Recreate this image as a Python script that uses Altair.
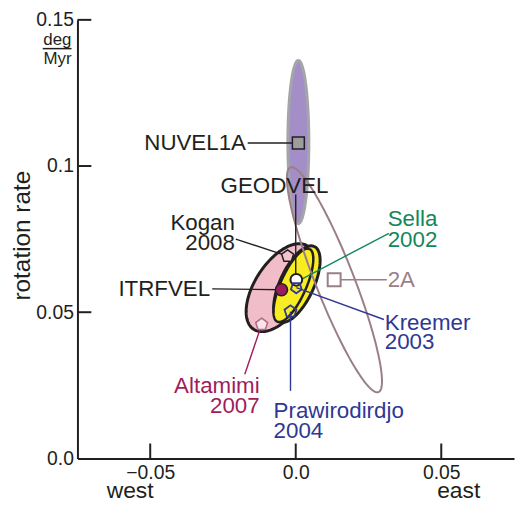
import numpy as np
import pandas as pd
import altair as alt

FONT = "Liberation Sans"
INK = "#231f20"
INKS = {"black": INK, "green": "#13875a", "mauve": "#9a7f88",
        "blue": "#2f3893", "maroon": "#a01c5c"}

# ---- axes (deg/Myr)
x_domain = [-0.075, 0.075]
y_domain = [0.0, 0.15]
x_ticks = [-0.05, 0.0, 0.05]
y_ticks = [0.05, 0.1, 0.15]
y_label_values = [0.0, 0.05, 0.1, 0.15]

# ---- error ellipses: centre, semi-axes, azimuth of major axis (deg from +x)
ell_name = ["NUVEL1A", "Altamimi 2007", "GEODVEL", "Sella 2002", "2A"]
ell_cx = [0.0009, -0.0052, 0.0004, -0.0008, 0.0133]
ell_cy = [0.1082, 0.0584, 0.0596, 0.0592, 0.0611]
ell_a = [0.0279, 0.0170, 0.0142, 0.0136, 0.0413]
ell_b = [0.0036, 0.0088, 0.0058, 0.0044, 0.0066]
ell_azimuth = [90, 57, 65, 66, 111.5]

# ---- pole solutions
pt_name = ["NUVEL1A", "2A", "ITRFVEL", "GEODVEL", "Kreemer 2003",
           "Prawirodirdjo 2004", "Altamimi 2007", "Kogan 2008"]
pt_x = [0.0009, 0.0132, -0.0049, 0.0002, 0.0002, -0.0018, -0.0117, -0.0028]
pt_y = [0.1079, 0.0611, 0.0577, 0.0611, 0.0584, 0.0502, 0.0458, 0.0692]

# ---- labels
lab_text = ["NUVEL1A", "GEODVEL", "Kogan", "2008", "ITRFVEL", "Sella", "2002",
            "2A", "Kreemer", "2003", "Prawirodirdjo", "2004", "Altamimi", "2007"]
lab_x = [-0.0171, -0.0073, -0.0209, -0.0209, -0.0294, 0.0316, 0.0316,
         0.0316, 0.0306, 0.0306, -0.0076, -0.0076, -0.0124, -0.0124]
lab_y = [0.1079, 0.0933, 0.0804, 0.0736, 0.0580, 0.0818, 0.0747,
         0.0611, 0.0463, 0.0397, 0.0163, 0.0095, 0.0248, 0.0180]
lab_ink = ["black", "black", "black", "black", "black", "green", "green",
           "mauve", "blue", "blue", "blue", "blue", "maroon", "maroon"]
lab_side = ["right", "center", "right", "right", "right", "left", "left",
            "left", "left", "left", "left", "left", "right", "right"]

# ---- leader lines
lead_ink = ["black", "black", "black", "black", "green", "mauve", "blue", "blue", "maroon"]
lead_x1 = [-0.0165, 0.0000, -0.0206, -0.0287, 0.0320, 0.0313, 0.0303, -0.0018, -0.0175]
lead_y1 = [0.1079, 0.0903, 0.0750, 0.0580, 0.0770, 0.0611, 0.0475, 0.0231, 0.0288]
lead_x2 = [0.0009, 0.0000, -0.0028, -0.0049, 0.0016, 0.0132, 0.0002, -0.0018, -0.0117]
lead_y2 = [0.1079, 0.0611, 0.0692, 0.0577, 0.0611, 0.0611, 0.0584, 0.0502, 0.0458]

# ---- direction words
dir_text = ["west", "east"]
dir_x = [-0.0569, 0.0560]

xs = alt.Scale(domain=x_domain, nice=False, zero=False)
ys = alt.Scale(domain=y_domain, nice=False, zero=False)
LABEL_EXPR = "datum.value == 0 ? '0.0' : format(datum.value, '.2~f')"

x_axis = alt.Axis(values=x_ticks, labelExpr=LABEL_EXPR, ticks=False, grid=False,
                  domainColor=INK, domainWidth=2, labelFont=FONT, labelFontSize=19.5,
                  labelColor=INK, labelPadding=5, labelFlush=False, labelOverlap=False,
                  title=None)
y_axis = alt.Axis(values=y_label_values, labelExpr=LABEL_EXPR, ticks=False, grid=False,
                  domainColor=INK, domainWidth=2, labelFont=FONT, labelFontSize=19.5,
                  labelColor=INK, labelPadding=4, labelFlush=False, labelOverlap=False,
                  labelBaseline="middle",
                  title="rotation rate", titleFont=FONT, titleFontSize=24.5,
                  titleFontWeight="normal", titleColor=INK, titleX=-55, titleY=217,
                  titleAngle=270, titleAlign="center", titleBaseline="middle")


def X(f):
    return alt.X(f, type="quantitative", scale=xs, axis=x_axis)


def Y(f):
    return alt.Y(f, type="quantitative", scale=ys, axis=y_axis)


ink_color = alt.Color("ink:N", scale=alt.Scale(domain=list(INKS.keys()),
                                               range=list(INKS.values())), legend=None)


def ellipse_df(k):
    t = np.linspace(0, 2 * np.pi, 181)
    th = np.deg2rad(ell_azimuth[k])
    ex = ell_cx[k] + ell_a[k] * np.cos(t) * np.cos(th) - ell_b[k] * np.sin(t) * np.sin(th)
    ey = ell_cy[k] + ell_a[k] * np.cos(t) * np.sin(th) + ell_b[k] * np.sin(t) * np.cos(th)
    return pd.DataFrame({"x": ex, "y": ey, "i": np.arange(len(t))})


ell_style = {
    "NUVEL1A": dict(fill="#a48ec8", stroke="#a3a6a8", strokeWidth=3),
    "Altamimi 2007": dict(fill="#f1bdc9", stroke=INK, strokeWidth=3),
    "GEODVEL": dict(fill="#f8ec22", stroke=INK, strokeWidth=3),
    "Sella 2002": dict(fill="#f8ec22", stroke=INK, strokeWidth=2.5),
    "2A": dict(stroke=INKS["mauve"], strokeWidth=2),
}

layers = []
for k, n in enumerate(ell_name):
    layers.append(
        alt.Chart(ellipse_df(k)).mark_line(interpolate="linear", **ell_style[n]).encode(
            x=X("x"), y=Y("y"), order="i:Q",
        )
    )

# inward ticks
layers.append(
    alt.Chart(pd.DataFrame({"v": y_ticks})).mark_rule(color=INK, strokeWidth=2).encode(
        y=Y("v"), x=alt.value(0), x2=alt.value(14))
)
layers.append(
    alt.Chart(pd.DataFrame({"v": x_ticks})).mark_rule(color=INK, strokeWidth=2).encode(
        x=X("v"), y=alt.value(427), y2=alt.value(442))
)

# leader lines
lead_df = pd.DataFrame({"x1": lead_x1, "y1": lead_y1, "x2": lead_x2, "y2": lead_y2,
                        "ink": lead_ink})
layers.append(
    alt.Chart(lead_df).mark_rule(strokeWidth=1.4).encode(
        x=X("x1"), y=Y("y1"), x2="x2:Q", y2="y2:Q", color=ink_color)
)

# markers
PENT_UP = "M0,-1L0.951,-0.309L0.588,0.809L-0.588,0.809L-0.951,-0.309Z"
PENT_DOWN = "M0,1L0.951,0.309L0.588,-0.809L-0.588,-0.809L-0.951,0.309Z"
pt_style = {
    "NUVEL1A": dict(shape="square", size=144, filled=True, fill="#9d9d9f", stroke=INK, strokeWidth=1.5),
    "2A": dict(shape="square", size=169, filled=True, fill="white", stroke=INKS["mauve"], strokeWidth=2),
    "ITRFVEL": dict(shape="circle", size=150, filled=True, fill="#9c1b5c", stroke=INK, strokeWidth=1.5),
    "GEODVEL": dict(shape="circle", size=140, filled=True, fill="white", stroke=INK, strokeWidth=2),
    "Kreemer 2003": dict(shape=PENT_DOWN, size=130, filled=False, stroke=INKS["blue"], strokeWidth=1.8),
    "Prawirodirdjo 2004": dict(shape=PENT_UP, size=160, filled=False, stroke=INKS["blue"], strokeWidth=1.8),
    "Altamimi 2007": dict(shape=PENT_UP, size=160, filled=True, fill="#f8e3e8", stroke="#b06a86", strokeWidth=1.5),
    "Kogan 2008": dict(shape=PENT_UP, size=160, filled=True, fill="#f3c4cf", stroke=INK, strokeWidth=1.5),
}
for n, px, py in zip(pt_name, pt_x, pt_y):
    layers.append(
        alt.Chart(pd.DataFrame({"x": [px], "y": [py]})).mark_point(opacity=1, **pt_style[n]).encode(
            x=X("x"), y=Y("y"))
    )

# labels
lab_df = pd.DataFrame({"text": lab_text, "x": lab_x, "y": lab_y, "ink": lab_ink, "side": lab_side})
for side in ["left", "center", "right"]:
    layers.append(
        alt.Chart(lab_df).transform_filter(alt.datum.side == side).mark_text(
            align=side, baseline="middle", font=FONT, fontSize=22.5).encode(
            x=X("x"), y=Y("y"), text="text:N", color=ink_color)
    )

# west / east
layers.append(
    alt.Chart(pd.DataFrame({"t": dir_text, "x": dir_x})).mark_text(
        align="center", baseline="middle", font=FONT, fontSize=23, color=INK).encode(
        x=X("x"), y=alt.value(475), text="t:N")
)

# units deg / Myr
layers.append(
    alt.Chart(pd.DataFrame({"t": ["deg"]})).mark_text(
        align="right", baseline="alphabetic", font=FONT, fontSize=17, color=INK).encode(
        x=alt.value(-6), y=alt.value(25), text="t:N")
)
layers.append(
    alt.Chart(pd.DataFrame({"t": ["Myr"]})).mark_text(
        align="right", baseline="alphabetic", font=FONT, fontSize=17, color=INK).encode(
        x=alt.value(-6), y=alt.value(44), text="t:N")
)
layers.append(
    alt.Chart(pd.DataFrame({"t": [1]})).mark_rule(color=INK, strokeWidth=1.5).encode(
        x=alt.value(-35), x2=alt.value(-6), y=alt.value(29))
)

chart = alt.layer(*layers).properties(
    width=440, height=442,
    padding={"left": 70, "top": 10, "right": 2, "bottom": 42},
    autosize=alt.AutoSizeParams(type="none"),
).configure_view(stroke=None)

chart.save("out.html", embed_options={"renderer": "svg", "actions": False})
